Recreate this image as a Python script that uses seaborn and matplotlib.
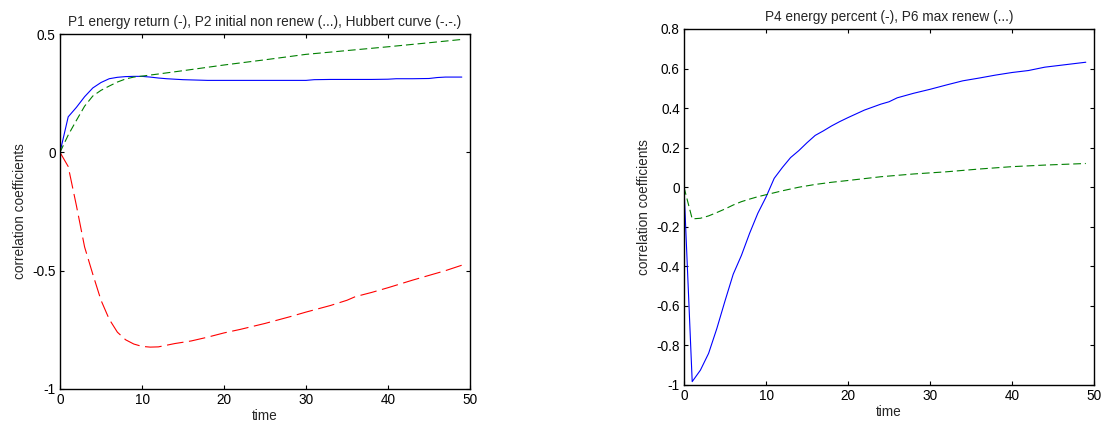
import matplotlib
matplotlib.use("Agg")
import matplotlib.pyplot as plt
import seaborn as sns

# ---- data: left panel ----
t_p1 = [0, 1, 2, 3, 4, 5, 6, 7, 8, 9, 10, 11, 12, 13, 14, 15, 16, 17, 18, 20, 22, 25, 28, 30,
        31, 33, 35, 38, 40, 41, 43, 45, 46, 47, 49]
p1_energy_return = [0, 0.15, 0.19, 0.235, 0.272, 0.295, 0.311, 0.317, 0.32, 0.321, 0.321, 0.318,
                    0.314, 0.311, 0.309, 0.307, 0.306, 0.305, 0.304, 0.304, 0.304, 0.304, 0.304,
                    0.304, 0.307, 0.308, 0.308, 0.308, 0.309, 0.311, 0.311, 0.312, 0.316, 0.318, 0.318]

t_p2 = [0, 1, 2, 3, 4, 5, 6, 7, 8, 9, 10, 12, 15, 20, 25, 30, 35, 40, 45, 49]
p2_initial_non_renew = [0, 0.073, 0.135, 0.195, 0.238, 0.262, 0.28, 0.297, 0.31, 0.318, 0.322,
                        0.331, 0.345, 0.369, 0.391, 0.414, 0.43, 0.446, 0.463, 0.477]

t_hub = [0, 1, 2, 3, 4, 5, 6, 7, 8, 9, 10, 11, 12, 13, 14, 16, 18, 20, 22, 25, 28, 30, 33, 35,
         36, 38, 40, 43, 45, 47, 49]
hubbert_curve = [0, -0.06, -0.225, -0.40, -0.515, -0.625, -0.705, -0.76, -0.792, -0.81, -0.82,
                 -0.823, -0.822, -0.815, -0.808, -0.797, -0.781, -0.763, -0.748, -0.723, -0.695,
                 -0.675, -0.647, -0.625, -0.61, -0.592, -0.572, -0.54, -0.52, -0.5, -0.477]

# ---- data: right panel ----
t_p4 = [0, 1, 2, 3, 4, 5, 6, 7, 8, 9, 10, 11, 12, 13, 14, 15, 16, 17, 18, 19, 20, 22, 24, 25,
        26, 28, 30, 32, 34, 36, 38, 40, 42, 44, 46, 49]
p4_energy_percent = [0, -0.983, -0.925, -0.84, -0.715, -0.575, -0.44, -0.345, -0.233, -0.132,
                     -0.05, 0.045, 0.1, 0.15, 0.185, 0.225, 0.262, 0.285, 0.31, 0.332, 0.352,
                     0.39, 0.42, 0.432, 0.452, 0.475, 0.495, 0.517, 0.538, 0.552, 0.567, 0.58,
                     0.59, 0.607, 0.617, 0.632]

t_p6 = [0, 1, 2, 3, 4, 5, 6, 7, 8, 9, 10, 12, 14, 16, 18, 20, 24, 28, 32, 36, 40, 44, 49]
p6_max_renew = [0, -0.16, -0.157, -0.145, -0.128, -0.11, -0.09, -0.073, -0.06, -0.048, -0.038,
                -0.018, 0.0, 0.014, 0.025, 0.034, 0.053, 0.067, 0.078, 0.092, 0.104, 0.112, 0.12]

left_title = "P1 energy return (-), P2 initial non renew (...), Hubbert curve (-.-.)"
right_title = "P4 energy percent (-), P6 max renew (...)"
x_ticks = [0, 10, 20, 30, 40, 50]
left_yticks = [-1, -0.5, 0, 0.5]
left_yticklabels = ["-1", "-0.5", "0", "0.5"]
right_yticks = [-1, -0.8, -0.6, -0.4, -0.2, 0, 0.2, 0.4, 0.6, 0.8]
right_yticklabels = ["-1", "-0.8", "-0.6", "-0.4", "-0.2", "0", "0.2", "0.4", "0.6", "0.8"]

sns.set_style("ticks")
plt.rcParams['font.family'] = ['Liberation Sans', 'DejaVu Sans']
FS = 9.8

fig = plt.figure(figsize=(11.02, 4.25), dpi=100)
axL = fig.add_axes([60 / 1102, 1 - 389 / 425, 410 / 1102, 355 / 425])
axR = fig.add_axes([684 / 1102, 1 - 385 / 425, 410 / 1102, 356 / 425])

BLUE = "#0000ff"
GREEN = "#008000"
RED = "#ff0000"
LW = 0.8

sns.lineplot(x=t_p1, y=p1_energy_return, ax=axL, color=BLUE, lw=LW, estimator=None, sort=False)
sns.lineplot(x=t_p2, y=p2_initial_non_renew, ax=axL, color=GREEN, lw=LW, estimator=None, sort=False)
axL.lines[-1].set_dashes((7, 3.5))
sns.lineplot(x=t_hub, y=hubbert_curve, ax=axL, color=RED, lw=LW, estimator=None, sort=False)
axL.lines[-1].set_dashes((15, 5))

sns.lineplot(x=t_p4, y=p4_energy_percent, ax=axR, color=BLUE, lw=LW, estimator=None, sort=False)
sns.lineplot(x=t_p6, y=p6_max_renew, ax=axR, color=GREEN, lw=LW, estimator=None, sort=False)
axR.lines[-1].set_dashes((7, 3.5))

for ax, yt, ytl, ylim, title in [
    (axL, left_yticks, left_yticklabels, (-1, 0.5), left_title),
    (axR, right_yticks, right_yticklabels, (-1, 0.8), right_title),
]:
    ax.set_xlim(0, 50)
    ax.set_ylim(*ylim)
    ax.set_xticks(x_ticks)
    ax.set_xticklabels([str(v) for v in x_ticks])
    ax.set_yticks(yt)
    ax.set_yticklabels(ytl)
    ax.tick_params(direction="in", top=True, right=True, length=3, width=0.8,
                   labelsize=FS, colors="black", pad=3)
    for s in ax.spines.values():
        s.set_visible(True)
        s.set_linewidth(1.0)
        s.set_color("black")
    ax.set_xlabel("time", fontsize=FS, labelpad=1)
    ax.set_ylabel("correlation coefficients", fontsize=FS, labelpad=4)
    ax.set_title(title, fontsize=FS, pad=6)
    ax.grid(False)

fig.savefig("out.png", dpi=100, facecolor="white")
